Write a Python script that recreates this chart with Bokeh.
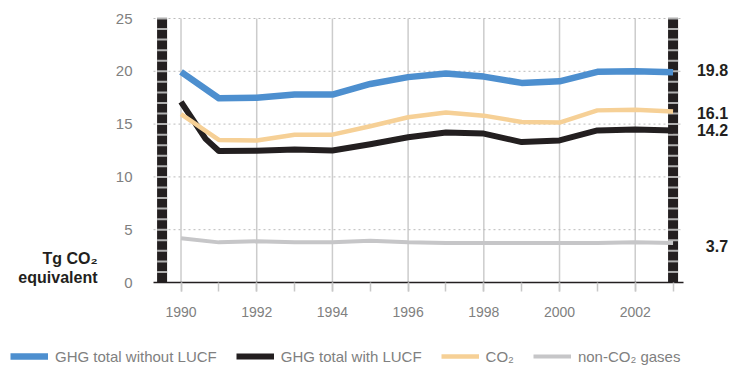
from bokeh.plotting import figure
from bokeh.models import (Range1d, FixedTicker, Label, Legend, LegendItem)
from bokeh.embed import file_html
from bokeh.resources import INLINE

# ---- data ----
years = [1990, 1991, 1992, 1993, 1994, 1995, 1996, 1997, 1998, 1999, 2000, 2001, 2002, 2003]
ghg_without_lucf = [19.95, 17.45, 17.5, 17.8, 17.8, 18.8, 19.45, 19.8, 19.5, 18.9, 19.05, 19.95, 20.0, 19.9]
years_with_lucf = [1990, 1990.65, 1991, 1992, 1993, 1994, 1995, 1996, 1997, 1998, 1999, 2000, 2001, 2002, 2003]
ghg_with_lucf = [17.1, 13.6, 12.45, 12.47, 12.6, 12.5, 13.1, 13.75, 14.2, 14.1, 13.3, 13.45, 14.4, 14.5, 14.4]
co2 = [15.95, 13.5, 13.45, 14.0, 14.0, 14.8, 15.65, 16.1, 15.8, 15.2, 15.15, 16.3, 16.35, 16.2]
non_co2 = [4.2, 3.8, 3.9, 3.8, 3.8, 3.95, 3.8, 3.75, 3.75, 3.75, 3.75, 3.75, 3.8, 3.75]
end_labels = ["19.8", "14.2", "16.1", "3.7"]
series_names = ["GHG total without LUCF", "GHG total with LUCF", "CO\u2082", "non-CO\u2082 gases"]
y_ticks = [0, 5, 10, 15, 20, 25]
x_label_years = [1990, 1992, 1994, 1996, 1998, 2000, 2002]
bar_marks = list(range(1, 26))

BLUE = "#4d8fcf"
BLACK = "#231f20"
TAN = "#f6d096"
GRAY = "#c6c6c8"
TXT = "#808080"
FONT = "Liberation Sans"

# plot area limits (data units)
X_LEFT = 1989.273
X_RIGHT = 2003.276

p = figure(width=734, height=368, output_backend="svg", toolbar_location=None,
           x_range=Range1d(1985.231, 2004.623), y_range=Range1d(-8.144, 26.705),
           min_border=0)
p.outline_line_color = None
p.background_fill_color = "white"
p.border_fill_color = "white"
p.xgrid.visible = False
p.ygrid.visible = False

# axes (fixed inside the canvas)
xa = p.xaxis[0]
xa.fixed_location = y_ticks[0]
xa.bounds = (X_LEFT, X_RIGHT)
xa.ticker = FixedTicker(ticks=x_label_years, minor_ticks=years)
xa.axis_line_color = BLACK
xa.axis_line_width = 1.5
xa.major_tick_in = 0
xa.major_tick_out = 9
xa.minor_tick_in = 0
xa.minor_tick_out = 9
xa.major_tick_line_color = "#c8c8c8"
xa.minor_tick_line_color = "#c8c8c8"
xa.major_tick_line_width = 1.5
xa.minor_tick_line_width = 1.5
xa.major_label_text_font = FONT
xa.major_label_text_font_size = "14px"
xa.major_label_text_color = TXT
xa.major_label_standoff = 15

ya = p.yaxis[0]
ya.fixed_location = X_LEFT
ya.bounds = (y_ticks[0], y_ticks[-1])
ya.ticker = FixedTicker(ticks=y_ticks)
ya.axis_line_color = None
ya.major_tick_line_color = None
ya.minor_tick_line_color = None
ya.major_label_text_font = FONT
ya.major_label_text_font_size = "15px"
ya.major_label_text_color = TXT
ya.major_label_standoff = 15

# grid lines
p.segment(x0=x_label_years, y0=[y_ticks[0]] * len(x_label_years),
          x1=x_label_years, y1=[y_ticks[-1]] * len(x_label_years),
          line_color="#cccccc", line_width=1.5)
hy = y_ticks[1:]
p.segment(x0=[X_LEFT] * len(hy), y0=hy, x1=[X_RIGHT] * len(hy), y1=hy,
          line_color="#bbbbbb", line_width=1, line_dash="2 3")

# black scale bars
bar_left_x = years[0] - 0.5
bar_right_x = years[-1]
for bx in (bar_left_x, bar_right_x):
    p.segment(x0=bx, y0=y_ticks[0], x1=bx, y1=y_ticks[-1], line_width=10, line_color=BLACK)
    p.scatter(x=[bx] * len(bar_marks), y=bar_marks, marker="dash", size=10,
              line_color="#b0b0b0", line_width=2)

# series
r_blue = p.line(years, ghg_without_lucf, line_color=BLUE, line_width=6.5, line_join="round")
r_black = p.line(years_with_lucf, ghg_with_lucf, line_color=BLACK, line_width=6, line_join="round")
r_tan = p.line(years, co2, line_color=TAN, line_width=4.5, line_join="round")
r_gray = p.line(years, non_co2, line_color=GRAY, line_width=4, line_join="round")

# end labels
last_vals = [ghg_without_lucf[-1], ghg_with_lucf[-1], co2[-1], non_co2[-1]]
label_dy = [2, 0, -2, -3]
for txt, v, dy in zip(end_labels, last_vals, label_dy):
    p.add_layout(Label(x=years[-1], y=v, text=txt, x_offset=55, y_offset=dy, text_align="right",
                       text_baseline="middle", text_font=FONT, text_font_style="bold",
                       text_font_size="16px", text_color=BLACK))

# y axis title
p.add_layout(Label(x=X_LEFT, y=2.27, text="Tg CO\u2082", x_offset=-56, text_align="right",
                   text_baseline="middle", text_font=FONT, text_font_style="bold",
                   text_font_size="16px", text_color=BLACK))
p.add_layout(Label(x=X_LEFT, y=0.45, text="equivalent", x_offset=-56, text_align="right",
                   text_baseline="middle", text_font=FONT, text_font_style="bold",
                   text_font_size="16px", text_color=BLACK))

legend = Legend(items=[LegendItem(label=series_names[0], renderers=[r_blue]),
                       LegendItem(label=series_names[1], renderers=[r_black]),
                       LegendItem(label=series_names[2], renderers=[r_tan]),
                       LegendItem(label=series_names[3], renderers=[r_gray])],
                orientation="horizontal", location=(10, 3),
                label_text_font=FONT, label_text_font_size="15px", label_text_color=TXT,
                glyph_width=38, glyph_height=18, label_height=18, label_standoff=7,
                spacing=19, padding=0, margin=0, border_line_color=None,
                background_fill_alpha=0)
p.add_layout(legend, "center")

open("out.html", "w").write(file_html(p, INLINE))
